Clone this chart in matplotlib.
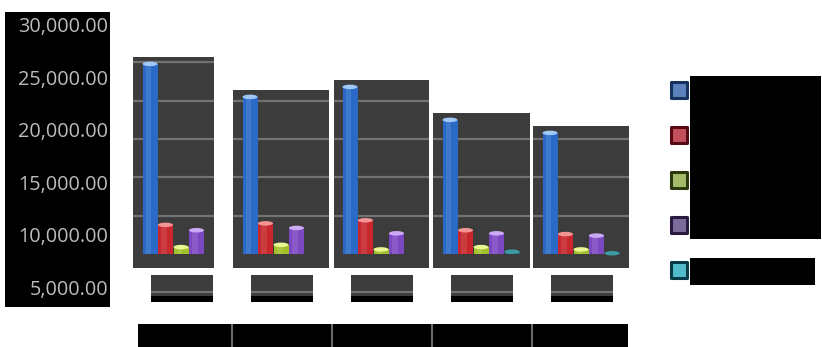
import matplotlib
matplotlib.use("Agg")
import matplotlib.pyplot as plt
from matplotlib.patches import Rectangle, Ellipse

# ---------------- data ----------------
categories = ["C1", "C2", "C3", "C4", "C5"]
series_names = ["S1", "S2", "S3", "S4", "S5"]
blue = [29800, 25500, 26800, 22500, 20800]
red = [8800, 9000, 9400, 8100, 7600]
green = [5900, 6200, 5600, 5900, 5600]
purple = [8100, 8400, 7700, 7700, 7400]
cyan = [5000, 5000, 5000, 5300, 5100]
series = [blue, red, green, purple, cyan]
y_ticks = [5000, 10000, 15000, 20000, 25000, 30000]
y_tick_labels = ["5,000.00", "10,000.00", "15,000.00", "20,000.00", "25,000.00", "30,000.00"]

# ---------------- style ----------------
bar_colors = ["#2a6ac6", "#c6262c", "#a2c02a", "#7c48c2", "#1f6f78"]
cap_colors = ["#a0c8f6", "#f49494", "#eaf690", "#ccaaf6", "#3e9aa2"]
leg_face = ["#5b82bc", "#c4505e", "#a4bc6a", "#7c6c9c", "#52bccb"]
leg_edge = ["#16325e", "#560a14", "#2a3a0e", "#281a40", "#083a48"]
panel_bg = "#3c3c3c"
grid_c = "#727272"

W, H = 822, 347
fig = plt.figure(figsize=(W / 100, H / 100), dpi=100)
fig.patch.set_facecolor("white")


def rect(x0, y0, x1, y1):
    return [x0 / W, 1 - y1 / H, (x1 - x0) / W, (y1 - y0) / H]


def clean(ax):
    ax.set_xticks([])
    ax.set_yticks([])
    for s in ax.spines.values():
        s.set_visible(False)


# value scale of the plot area
FLOOR = 5000
FLOOR_PX = 254
PPU = 38.33 / 5000  # pixels per unit
SLOT0, SLOT_W = 132, 100
PANEL_BOTTOM_PX = 268
panel_x = [(133, 214), (233, 329), (334, 429), (433, 530), (533, 629)]
offsets = [0.18 + k * 0.155 for k in range(len(series))]
bw = 0.15

for i, cat in enumerate(categories):
    top_val = blue[i] + 7 / PPU
    top_px = FLOOR_PX - (top_val - FLOOR) * PPU
    y_lo = FLOOR - (PANEL_BOTTOM_PX - FLOOR_PX) / PPU
    xl, xr = panel_x[i]
    ax = fig.add_axes(rect(xl, top_px, xr, PANEL_BOTTOM_PX))
    ax.set_facecolor(panel_bg)
    clean(ax)
    ax.set_xlim(i + (xl - SLOT0 - SLOT_W * i) / SLOT_W, i + (xr - SLOT0 - SLOT_W * i) / SLOT_W)
    ax.set_ylim(y_lo, top_val)
    for g in y_ticks[1:]:
        ax.axhline(g, color=grid_c, lw=1.6, zorder=1)
    cap_h = 4.5 / PPU
    for k, vals in enumerate(series):
        v = vals[i]
        if v <= FLOOR:
            continue
        x = i + offsets[k]
        ax.bar(x, v - FLOOR, bottom=FLOOR, width=bw, color=bar_colors[k], zorder=3,
               linewidth=0)
        ax.bar(x - bw * 0.1, v - FLOOR, bottom=FLOOR, width=bw * 0.35,
               color="white", alpha=0.10, zorder=4, linewidth=0)
        ax.add_patch(Ellipse((x, v), bw, cap_h, facecolor=cap_colors[k],
                             edgecolor="none", zorder=5))
    # small redacted label box below each panel
    axs = fig.add_axes(rect(SLOT0 + SLOT_W * i + 19, 275, SLOT0 + SLOT_W * i + 81, 302))
    axs.set_facecolor(panel_bg)
    clean(axs)
    axs.set_xlim(0, 1)
    axs.set_ylim(FLOOR - (302 - FLOOR_PX) / PPU, FLOOR - (275 - FLOOR_PX) / PPU)
    axs.axhline(0, color=grid_c, lw=1.6)
    axs.axhspan(FLOOR - (302 - FLOOR_PX) / PPU, FLOOR - (296 - FLOOR_PX) / PPU,
                color="black", lw=0)

# bottom category strip (redacted)
axb = fig.add_axes(rect(138, 324, 628, 347))
axb.set_facecolor("black")
clean(axb)
axb.set_xlim((138 - SLOT0) / SLOT_W, (628 - SLOT0) / SLOT_W)
axb.set_ylim(0, 1)
for b in range(1, len(categories)):
    axb.axvline(b, color="#6a6a6a", lw=1.5)

# left value-axis labels box
axl = fig.add_axes(rect(5, 12, 110, 307))
axl.set_facecolor("black")
clean(axl)
lab_ppu = 52.6 / 5000
axl.set_ylim(5000 - (307 - 290) / lab_ppu, 30000 + (27 - 12) / lab_ppu)
axl.set_xlim(0, 1)
for v, t in zip(y_ticks, y_tick_labels):
    axl.text(0.985, v, t, ha="right", va="center", color="#bcbcbc",
             fontsize=14.3, family="Open Sans")

# legend (labels redacted)
axg = fig.add_axes(rect(655, 60, 822, 300))
axg.set_xlim(655, 822)
axg.set_ylim(300, 60)
axg.axis("off")
for k, name in enumerate(series_names):
    yc = 89.5 + 45 * k
    axg.scatter([678.5], [yc], marker="s", s=(12.0) ** 2, facecolor=leg_face[k],
                edgecolor=leg_edge[k], linewidth=2.2, zorder=3)
axg.add_patch(Rectangle((690, 76), 131, 163, facecolor="black", edgecolor="none"))
axg.add_patch(Rectangle((690, 258), 125, 27, facecolor="black", edgecolor="none"))

fig.savefig("out.png", dpi=100, facecolor="white")
